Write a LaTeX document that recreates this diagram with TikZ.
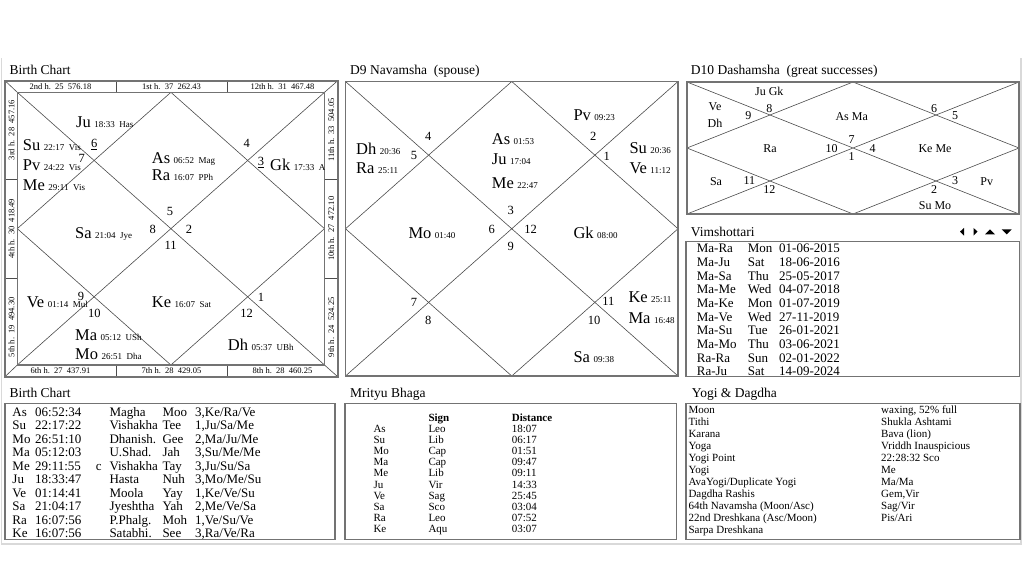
\documentclass[tikz,border=0pt]{standalone}
\usepackage{fontspec}
\setmainfont{Liberation Serif}
\newcommand{\fsz}[1]{\fontsize{#1}{#1}\selectfont}
\newcommand{\pln}[2]{{\fsz{16.5}#1}\hspace{3.5pt}{\fsz{9}#2}}
\tikzset{
 frame/.style={draw=black!55,line width=1.6pt},
 boxf/.style={draw=black!55,line width=1.2pt},
 dline/.style={draw=black!70,line width=0.6pt},
 sep/.style={draw=black!70,line width=0.8pt},
 pg/.style={draw=black!15,line width=1.5pt},
 ptxt/.style={anchor=base west,inner sep=0pt},
 hnum/.style={inner sep=0pt,font=\fsz{12.5}},
 dnum/.style={inner sep=0pt,font=\fsz{12}},
 strip/.style={inner sep=0pt,font=\fsz{8.5}},
 ttl/.style={anchor=base west,inner sep=0pt,font=\fsz{13.5}},
 tb/.style={anchor=base west,inner sep=0pt,font=\fsz{13}},
 ts/.style={anchor=base west,inner sep=0pt,font=\fsz{11}},
 tsb/.style={anchor=base west,inner sep=0pt,font=\fsz{11}\bfseries},
}
\newcommand{\btrow}[7]{%
 \node[tb] (bt#1a) at (12.3,{416+13.5*(#1-1)}) {#2};
 \node[tb] (bt#1b) at (35,{416+13.5*(#1-1)}) {#3};
 \node[tb] (bt#1c) at (95.7,{416+13.5*(#1-1)}) {#4};
 \node[tb] (bt#1d) at (109.3,{416+13.5*(#1-1)}) {#5};
 \node[tb] (bt#1e) at (162.3,{416+13.5*(#1-1)}) {#6};
 \node[tb] (bt#1f) at (195,{416+13.5*(#1-1)}) {#7};
}
\newcommand{\yrow}[3]{%
 \node[ts] (yg#1a) at (688.3,{413.6+12*(#1-1)}) {#2};
 \node[ts] (yg#1b) at (881,{413.6+12*(#1-1)}) {#3};
}
\begin{document}
\begin{tikzpicture}[x=1pt,y=-1pt]
\useasboundingbox (0,0) rectangle (1024,576);
\fill[white] (0,0) rectangle (1024,576);
% page frame
\draw[pg] (1.5,58) -- (1.5,544) -- (1021,544) -- (1021,58);

% ================= Birth chart =================
\node[ttl] (t1) at (9.3,74.5) {Birth Chart};
\coordinate (bo1) at (5,80.7);
\coordinate (bo2) at (337.7,80.7);
\coordinate (bo3) at (337.7,376.7);
\coordinate (bo4) at (5,376.7);
\coordinate (bi1) at (17.3,92.3);
\coordinate (bi2) at (324.5,92.3);
\coordinate (bi3) at (324.5,365);
\coordinate (bi4) at (17.3,365);
\coordinate (bt) at (170.9,92.3);
\coordinate (bb) at (170.9,365);
\coordinate (bl) at (17.3,228.65);
\coordinate (br) at (324.5,228.65);
\draw[dline] (bi1) -- (bi3) (bi2) -- (bi4);
\draw[dline] (bt) -- (br) -- (bb) -- (bl) -- cycle;
\draw[dline] (bo1) -- (bi1) (bo2) -- (bi2) (bo3) -- (bi3) (bo4) -- (bi4);
\draw[sep] (116,80.7) -- (116,92.3) (227,80.7) -- (227,92.3)
           (116,365) -- (116,376.7) (227,365) -- (227,376.7)
           (5,179.4) -- (17.3,179.4) (5,278) -- (17.3,278)
           (324.5,179.4) -- (337.7,179.4) (324.5,278) -- (337.7,278);
\draw[frame] (bo1) rectangle (bo3);
\draw[frame] (bi1) rectangle (bi3);
\node[strip] (s1) at (60.5,86.8) {2nd h.\ \ 25\ \ 576.18};
\node[strip] (s2) at (171.5,86.8) {1st h.\ \ 37\ \ 262.43};
\node[strip] (s3) at (282.5,86.8) {12th h.\ \ 31\ \ 467.48};
\node[strip] (s4) at (60.5,371) {6th h.\ \ 27\ \ 437.91};
\node[strip] (s5) at (171.5,371) {7th h.\ \ 28\ \ 429.05};
\node[strip] (s6) at (282.5,371) {8th h.\ \ 28\ \ 460.25};
\node[strip,rotate=90] (s7) at (11.4,130) {3rd h.\ \ 28\ \ 457.16};
\node[strip,rotate=90] (s8) at (11.4,228.7) {4th h.\ \ 30\ \ 418.49};
\node[strip,rotate=90] (s9) at (11.4,327.3) {5th h.\ \ 19\ \ 494.30};
\node[strip,rotate=90] (s10) at (331.3,130) {11th h.\ \ 33\ \ 504.05};
\node[strip,rotate=90] (s11) at (331.3,228.7) {10th h.\ \ 27\ \ 472.10};
\node[strip,rotate=90] (s12) at (331.3,327.3) {9th h.\ \ 24\ \ 524.25};
% planets
\node[ptxt] (bJu) at (76,127.1) {\pln{Ju}{18:33\ \ Has}};
\node[ptxt] (bSu) at (22.7,150.4) {\pln{Su}{22:17\ \ Vis}};
\node[ptxt] (bPv) at (22.7,170.4) {\pln{Pv}{24:22\ \ Vis}};
\node[ptxt] (bMe) at (22.7,190.4) {\pln{Me}{29:11\ \ Vis}};
\node[ptxt] (bAs) at (151.7,163.1) {\pln{As}{06:52\ \ Mag}};
\node[ptxt] (bRa) at (151.7,180.4) {\pln{Ra}{16:07\ \ PPh}};
\begin{scope}
\clip (bi1) rectangle (bi3);
\node[ptxt] (bGk) at (270,170.4) {\pln{Gk}{17:33\ \ A}};
\end{scope}
\node[ptxt] (bSa) at (75,238.7) {\pln{Sa}{21:04\ \ Jye}};
\node[ptxt] (bVe) at (26.7,307.1) {\pln{Ve}{01:14\ \ Mul}};
\node[ptxt] (bKe) at (151.7,307.1) {\pln{Ke}{16:07\ \ Sat}};
\node[ptxt] (bMa) at (75,340.4) {\pln{Ma}{05:12\ \ USh}};
\node[ptxt] (bMo) at (75,359.7) {\pln{Mo}{26:51\ \ Dha}};
\node[ptxt] (bDh) at (227.7,350.4) {\pln{Dh}{05:37\ \ UBh}};
% house numbers
\node[hnum,anchor=base] (bh6) at (94.3,147.5) {\underline{6}};
\node[hnum] (bh7) at (81.7,158.3) {7};
\node[hnum] (bh4) at (246.7,143.3) {4};
\node[hnum,anchor=base] (bh3) at (261,165.9) {\underline{3}};
\node[hnum] (bh5) at (170,211.7) {5};
\node[hnum] (bh8) at (152.7,229.3) {8};
\node[hnum] (bh2) at (189,229.3) {2};
\node[hnum] (bh11) at (170.7,245.7) {11};
\node[hnum] (bh9) at (81,296.7) {9};
\node[hnum] (bh10) at (94.3,313.3) {10};
\node[hnum] (bh1) at (261,297.3) {1};
\node[hnum] (bh12) at (246.7,313.3) {12};

% ================= D9 =================
\node[ttl] (t2) at (350,74.5) {D9 Navamsha\ \ (spouse)};
\coordinate (n1) at (345.5,81.5);
\coordinate (n2) at (678,81.5);
\coordinate (n3) at (678,376);
\coordinate (n4) at (345.5,376);
\coordinate (nt) at (511.75,81.5);
\coordinate (nb) at (511.75,376);
\coordinate (nl) at (345.5,228.75);
\coordinate (nr) at (678,228.75);
\draw[dline] (n1) -- (n3) (n2) -- (n4);
\draw[dline] (nt) -- (nr) -- (nb) -- (nl) -- cycle;
\draw[frame] (n1) rectangle (n3);
\node[ptxt] (nPv) at (573.3,120.4) {\pln{Pv}{09:23}};
\node[ptxt] (nDh) at (356,154.7) {\pln{Dh}{20:36}};
\node[ptxt] (nRa) at (356,173.7) {\pln{Ra}{25:11}};
\node[ptxt] (nAs) at (491.7,144.7) {\pln{As}{01:53}};
\node[ptxt] (nJu) at (491.7,164.7) {\pln{Ju}{17:04}};
\node[ptxt] (nMe) at (491.7,188.1) {\pln{Me}{22:47}};
\begin{scope}
\clip (n1) rectangle (n3);
\node[ptxt] (nSu) at (629.3,153.7) {\pln{Su}{20:36}};
\node[ptxt] (nVe) at (629.3,173.7) {\pln{Ve}{11:12}};
\node[ptxt] (nKe) at (628.3,302.1) {\pln{Ke}{25:11}};
\node[ptxt] (nMa) at (628.3,323.7) {\pln{Ma}{16:48}};
\end{scope}
\node[ptxt] (nMo) at (408.3,238.7) {\pln{Mo}{01:40}};
\node[ptxt] (nGk) at (573.3,238.7) {\pln{Gk}{08:00}};
\node[ptxt] (nSa) at (573.3,362.1) {\pln{Sa}{09:38}};
\node[hnum] (nh4) at (428.3,136.7) {4};
\node[hnum] (nh5) at (414,155) {5};
\node[hnum] (nh2) at (593.3,136.7) {2};
\node[hnum] (nh1) at (606.7,156.7) {1};
\node[hnum] (nh3) at (510.7,210) {3};
\node[hnum] (nh6) at (491.7,229.3) {6};
\node[hnum] (nh12) at (530.7,229.3) {12};
\node[hnum] (nh9) at (510.7,246.7) {9};
\node[hnum] (nh7) at (414,302.7) {7};
\node[hnum] (nh8) at (428.3,320) {8};
\node[hnum] (nh11) at (608.3,301.7) {11};
\node[hnum] (nh10) at (594,320) {10};

% ================= D10 =================
\node[ttl] (t3) at (690.7,74.5) {D10 Dashamsha\ \ (great successes)};
\coordinate (d1) at (687,82);
\coordinate (d2) at (1019,82);
\coordinate (d3) at (1019,214);
\coordinate (d4) at (687,214);
\coordinate (dt) at (853,82);
\coordinate (db) at (853,214);
\coordinate (dl) at (687,148);
\coordinate (dr) at (1019,148);
\draw[dline] (d1) -- (d3) (d2) -- (d4);
\draw[dline] (dt) -- (dr) -- (db) -- (dl) -- cycle;
\draw[frame] (d1) rectangle (d3);
\node[dnum] (dJG) at (769.3,91.7) {Ju Gk};
\node[dnum] (dVe) at (715,106.7) {Ve};
\node[dnum] (dDh) at (715,123.3) {Dh};
\node[dnum] (dh9) at (748.3,116) {9};
\node[dnum] (dh8) at (769.3,108.3) {8};
\node[dnum] (dAM) at (851.7,116.7) {As Ma};
\node[dnum] (dh6) at (934,108.3) {6};
\node[dnum] (dh5) at (955,116) {5};
\node[dnum] (dRa) at (770,148.3) {Ra};
\node[dnum] (dh10) at (831.7,148.3) {10};
\node[dnum] (dh7) at (851.7,140) {7};
\node[dnum] (dh1) at (851.7,156.7) {1};
\node[dnum] (dh4) at (872.7,148.3) {4};
\node[dnum] (dKM) at (935,148.3) {Ke Me};
\node[dnum] (dSa) at (716,181.7) {Sa};
\node[dnum] (dh11) at (749.3,180.7) {11};
\node[dnum] (dh12) at (769.3,190) {12};
\node[dnum] (dh2) at (934,190) {2};
\node[dnum] (dh3) at (955,180.7) {3};
\node[dnum] (dPv) at (986.7,181.7) {Pv};
\node[dnum] (dSM) at (935,206) {Su Mo};

% ================= Vimshottari =================
\node[ttl] (t4) at (690.7,236.2) {Vimshottari};
\fill[black] (964,227.8) -- (964,235.6) -- (960,231.7) -- cycle;
\fill[black] (973.5,227.8) -- (973.5,235.6) -- (977.5,231.7) -- cycle;
\fill[black] (985,234.3) -- (995,234.3) -- (990,229.3) -- cycle;
\fill[black] (1001.7,229.3) -- (1011.7,229.3) -- (1006.7,234.3) -- cycle;
\draw[boxf] (686,241.7) rectangle (1019.3,376.7);
\foreach \a/\b/\c [count=\i from 0] in {Ma-Ra/Mon/01-06-2015,Ma-Ju/Sat/18-06-2016,Ma-Sa/Thu/25-05-2017,Ma-Me/Wed/04-07-2018,Ma-Ke/Mon/01-07-2019,Ma-Ve/Wed/27-11-2019,Ma-Su/Tue/26-01-2021,Ma-Mo/Thu/03-06-2021,Ra-Ra/Sun/02-01-2022,Ra-Ju/Sat/14-09-2024}{
 \node[tb] (vma\i) at (696.7,{252.6+13.7*\i}) {\a};
 \node[tb] (vmb\i) at (747.7,{252.6+13.7*\i}) {\b};
 \node[tb] (vmc\i) at (779,{252.6+13.7*\i}) {\c};
}

% ================= Birth chart table =================
\node[ttl] (t5) at (9.3,397.8) {Birth Chart};
\draw[boxf] (5,403.3) rectangle (335,539.3);
\btrow{1}{As}{06:52:34}{}{Magha}{Moo}{3,Ke/Ra/Ve}
\btrow{2}{Su}{22:17:22}{}{Vishakha}{Tee}{1,Ju/Sa/Me}
\btrow{3}{Mo}{26:51:10}{}{Dhanish.}{Gee}{2,Ma/Ju/Me}
\btrow{4}{Ma}{05:12:03}{}{U.Shad.}{Jah}{3,Su/Me/Me}
\btrow{5}{Me}{29:11:55}{c}{Vishakha}{Tay}{3,Ju/Su/Sa}
\btrow{6}{Ju}{18:33:47}{}{Hasta}{Nuh}{3,Mo/Me/Su}
\btrow{7}{Ve}{01:14:41}{}{Moola}{Yay}{1,Ke/Ve/Su}
\btrow{8}{Sa}{21:04:17}{}{Jyeshtha}{Yah}{2,Me/Ve/Sa}
\btrow{9}{Ra}{16:07:56}{}{P.Phalg.}{Moh}{1,Ve/Su/Ve}
\btrow{10}{Ke}{16:07:56}{}{Satabhi.}{See}{3,Ra/Ve/Ra}

% ================= Mrityu Bhaga =================
\node[ttl] (t6) at (350,397.8) {Mrityu Bhaga};
\draw[boxf] (345,403.3) rectangle (676.7,539.3);
\node[tsb] (mhs) at (428.3,421) {Sign};
\node[tsb] (mhd) at (511.7,421) {Distance};
\foreach \a/\b/\c [count=\i from 0] in {As/Leo/18:07,Su/Lib/06:17,Mo/Cap/01:51,Ma/Cap/09:47,Me/Lib/09:11,Ju/Vir/14:33,Ve/Sag/25:45,Sa/Sco/03:04,Ra/Leo/07:52,Ke/Aqu/03:07}{
 \node[ts] (mba\i) at (373.3,{432+11.22*\i}) {\a};
 \node[ts] (mbb\i) at (428.3,{432+11.22*\i}) {\b};
 \node[ts] (mbc\i) at (511.7,{432+11.22*\i}) {\c};
}

% ================= Yogi & Dagdha =================
\node[ttl] (t7) at (691.7,397.8) {Yogi \& Dagdha};
\draw[boxf] (686,403.3) rectangle (1020,539.3);
\yrow{1}{Moon}{waxing, 52\% full}
\yrow{2}{Tithi}{Shukla Ashtami}
\yrow{3}{Karana}{Bava (lion)}
\yrow{4}{Yoga}{Vriddh Inauspicious}
\yrow{5}{Yogi Point}{22:28:32 Sco}
\yrow{6}{Yogi}{Me}
\yrow{7}{AvaYogi/Duplicate Yogi}{Ma/Ma}
\yrow{8}{Dagdha Rashis}{Gem,Vir}
\yrow{9}{64th Navamsha (Moon/Asc)}{Sag/Vir}
\yrow{10}{22nd Dreshkana (Asc/Moon)}{Pis/Ari}
\yrow{11}{Sarpa Dreshkana}{}
\end{tikzpicture}
\end{document}
